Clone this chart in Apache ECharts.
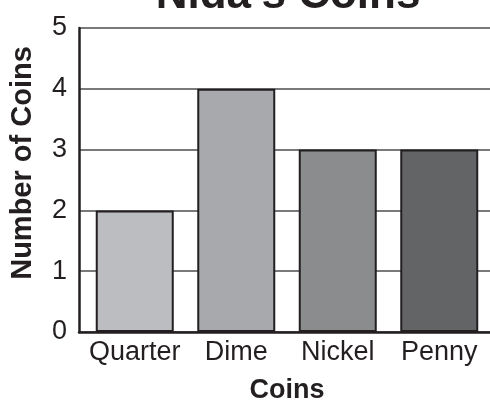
<!DOCTYPE html>
<html><head><meta charset="utf-8">
<script src="https://cdn.jsdelivr.net/npm/echarts@6/dist/echarts.min.js"></script>
<style>html,body{margin:0;padding:0;background:#fff}#c{width:490px;height:409px}</style>
</head><body><div id="c"></div>
<script>
var titleText = "Nida's Coins";
var categories = ["Quarter", "Dime", "Nickel", "Penny"];
var counts = [2, 4, 3, 3];
var barColors = ["#bcbdc0", "#a7a9ac", "#8a8c8e", "#636466"];
var yTicks = [0, 1, 2, 3, 4, 5];

var chart = echarts.init(document.getElementById('c'));
chart.setOption({
  animation: false,
  title: {text: titleText, left: 283, textAlign: 'center', top: -31,
    textStyle: {fontFamily: 'Liberation Sans', fontWeight: 'bold', fontSize: 44, color: '#231f20'}},
  grid: [
    {left: 77, top: 28, width: 416, height: 304},
    {left: 84, top: 28, width: 408, height: 304}
  ],
  xAxis: [
    {gridIndex: 0, type: 'value', min: 0, max: 1, show: true,
     axisLine: {show: true, lineStyle: {color: '#231f20', width: 2.5}},
     axisTick: {show: false}, axisLabel: {show: false}, splitLine: {show: false}},
    {gridIndex: 1, type: 'category', data: categories,
     axisLine: {show: false}, axisTick: {show: false},
     axisLabel: {interval: 0, hideOverlap: false, margin: 7, fontFamily: 'Liberation Sans', fontSize: 27, color: '#231f20'},
     name: 'Coins', nameLocation: 'middle', nameGap: 45,
     nameTextStyle: {fontFamily: 'Liberation Sans', fontWeight: 'bold', fontSize: 27, color: '#231f20'}}
  ],
  yAxis: [
    {gridIndex: 0, type: 'value', min: 0, max: 5, interval: 1,
     axisLine: {show: true, lineStyle: {color: '#231f20', width: 2.5}},
     axisTick: {show: false},
     axisLabel: {margin: 12, fontFamily: 'Liberation Sans', fontSize: 27, color: '#231f20',
       formatter: function (v) { return yTicks.indexOf(v) >= 0 ? String(v) : ''; }},
     splitLine: {show: true, lineStyle: {color: '#4d4d4f', width: 1.5}},
     name: 'Number of Coins', nameLocation: 'middle', nameGap: 42, nameRotate: 90,
     nameTextStyle: {fontFamily: 'Liberation Sans', fontWeight: 'bold', fontSize: 29, color: '#231f20',
       padding: [0, 0, 0, 34]}},
    {gridIndex: 1, type: 'value', min: 0, max: 5, interval: 1, show: false}
  ],
  series: [{
    type: 'bar', xAxisIndex: 1, yAxisIndex: 1, barWidth: 78,
    data: counts.map(function (v, i) {
      return {value: v, itemStyle: {color: barColors[i]}};
    }),
    itemStyle: {borderColor: '#231f20', borderWidth: 2}
  }]
});
</script></body></html>
